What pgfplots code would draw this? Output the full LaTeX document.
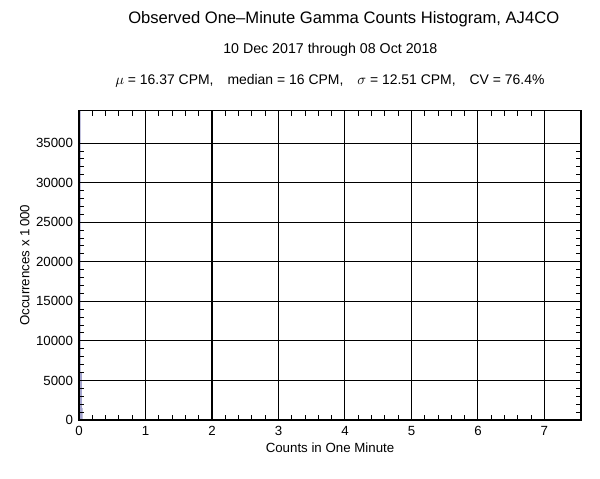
\documentclass[border=0pt]{standalone}
\usepackage{fontspec}
\setmainfont{Liberation Sans}
\usepackage{pgfplots}
\pgfplotsset{compat=1.18}
\begin{document}
\begin{tikzpicture}[font=\fontsize{10}{12}\selectfont]
% page = 600x479 px, 1px = 0.75bp; axis box at origin
\useasboundingbox (-59.25bp,-44.25bp) rectangle (390.75bp,314.99bp);
\begin{axis}[
    at={(0,0)}, anchor=south west,
    scale only axis,
    width=376.5bp, height=232bp,
    xmin=0, xmax=7.55,
    ymin=0, ymax=39100,
    xtick={0,1,...,7},
    ytick={0,5000,...,35000},
    scaled y ticks=false,
    minor x tick num=4,
    minor y tick num=4,
    tick align=inside,
    major tick length=0pt,
    minor tick length=3.8bp,
    xtick pos=both, ytick pos=both,
    xticklabel pos=bottom, yticklabel pos=left,
    grid=major,
    major grid style={black, line width=0.8bp},
    axis line style={black, line width=1.1bp},
    minor tick style={black, line width=0.75bp},
    /pgf/number format/1000 sep={},
    /pgf/number format/assume math mode=true,
    tick label style={font=\fontsize{10}{12}\selectfont},
    xticklabel style={yshift=-1bp},
    yticklabel style={xshift=-1bp},
    xlabel={Counts in One Minute},
    ylabel={Occurrences x 1\,000},
    xlabel style={yshift=1bp},
    ylabel style={yshift=-2bp},
    axis on top,
]
\addplot[ybar interval, fill=blue!30!gray!55, draw=none]
  coordinates {
    (0, 45000)
    (0.025, 6000)
    (0.045, 1500)
    (0.055, 0)
  };
\end{axis}
\node[anchor=base west, inner sep=0pt] at (36.75bp,297bp)
  {\fontsize{12.5}{14}\selectfont Observed One--Minute Gamma Counts Histogram, AJ4CO};
\node[anchor=base west, inner sep=0pt] at (108bp,274.5bp)
  {\fontsize{10.7}{12}\selectfont 10 Dec 2017 through 08 Oct 2018};
\node[anchor=base west, inner sep=0pt] at (27bp,251.25bp)
  {\fontsize{10.5}{12}\selectfont $\mu$ = 16.37 CPM,\quad median = 16 CPM,\quad $\sigma$ = 12.51 CPM,\quad CV = 76.4\%};
\end{tikzpicture}
\end{document}
